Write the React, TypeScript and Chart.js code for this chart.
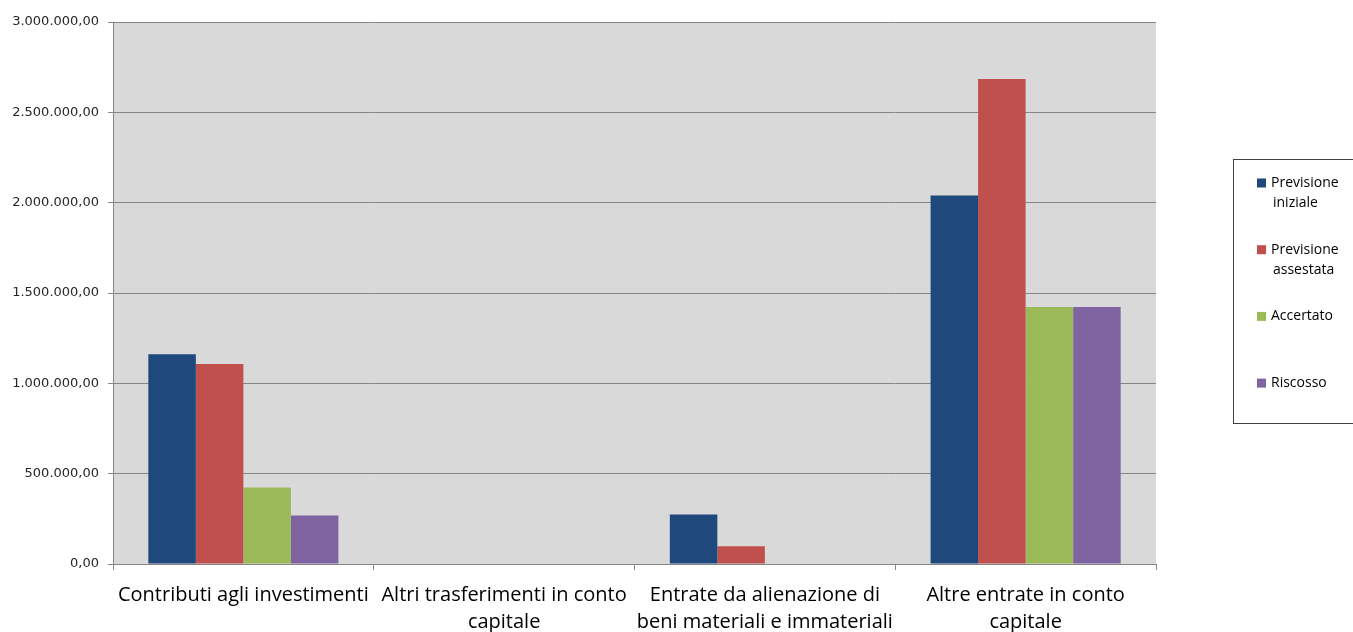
import React, { useEffect, useRef } from "react";
import { Chart, registerables } from "chart.js";

Chart.register(...registerables);

const categories: string[][] = [
  ["Contributi agli investimenti"],
  ["Altri trasferimenti in conto", "capitale"],
  ["Entrate da alienazione di", "beni materiali e immateriali"],
  ["Altre entrate in conto", "capitale"],
];

const seriesNames = ["Previsione\niniziale", "Previsione\nassestata", "Accertato", "Riscosso"];
const previsioneIniziale = [1161000, 0, 274000, 2040000];
const previsioneAssestata = [1107000, 0, 98000, 2685000];
const accertato = [424000, 0, 0, 1422000];
const riscosso = [268000, 0, 0, 1422000];
const seriesColors = ["#1F497D", "#C0504D", "#9BBB59", "#8064A2"];

const yMin = 0;
const yMax = 3000000;
const yStep = 500000;

function fmt(v: number): string {
  const [i, d] = Math.abs(v).toFixed(2).split(".");
  return (v < 0 ? "-" : "") + i.replace(/\B(?=(\d{3})+(?!\d))/g, ".") + "," + d;
}

const FONT = "'Open Sans', sans-serif";

const plotBg = {
  id: "plotBg",
  beforeDraw(chart: any) {
    const { ctx, chartArea } = chart;
    ctx.save();
    ctx.fillStyle = "#D9D9D9";
    ctx.fillRect(chartArea.left, chartArea.top, chartArea.right - chartArea.left, chartArea.bottom - chartArea.top);
    ctx.restore();
  },
};

const boxLegend = {
  id: "boxLegend",
  afterDraw(chart: any) {
    const { ctx } = chart;
    const left = 1233.5;
    const top = 159.5;
    const bottom = 423.5;
    const right = chart.width + 2;
    ctx.save();
    ctx.strokeStyle = "#404040";
    ctx.lineWidth = 1;
    ctx.strokeRect(left, top, right - left, bottom - top);
    const ds = chart.data.datasets;
    const n = ds.length;
    const first = 183;
    const spacing = 66.7;
    ctx.font = "14px " + FONT;
    ctx.textBaseline = "middle";
    ctx.textAlign = "left";
    for (let k = 0; k < n; k++) {
      const y = first + k * spacing;
      ctx.fillStyle = ds[k].backgroundColor;
      ctx.fillRect(1257, y - 4.5, 9, 9);
      ctx.fillStyle = "#000000";
      const lines = String(ds[k].label).split("\n");
      lines.forEach((ln: string, j: number) => {
        ctx.fillText(ln, j === 0 ? 1271 : 1273, y + j * 20);
      });
    }
    ctx.restore();
  },
};

export default function App() {
  const ref = useRef<HTMLCanvasElement>(null);
  useEffect(() => {
    if (!ref.current) return;
    const values = [previsioneIniziale, previsioneAssestata, accertato, riscosso];
    const chart = new Chart(ref.current, {
      type: "bar",
      data: {
        labels: categories as any,
        datasets: seriesNames.map((name, i) => ({
          label: name,
          data: values[i],
          backgroundColor: seriesColors[i],
          borderWidth: 0,
          barPercentage: 1,
          categoryPercentage: 0.729,
        })),
      },
      options: {
        animation: false,
        responsive: false,
        maintainAspectRatio: false,
        devicePixelRatio: 1,
        layout: { padding: { top: 22, right: 197, left: 0, bottom: 0 } },
        plugins: {
          legend: { display: false },
          tooltip: { enabled: false },
          title: { display: false },
        },
        scales: {
          x: {
            offset: true,
            grid: {
              offset: true,
              drawOnChartArea: false,
              drawTicks: true,
              tickLength: 6,
              color: "#868686",
            },
            border: { display: true, color: "#868686", width: 1 },
            ticks: {
              autoSkip: false,
              maxRotation: 0,
              minRotation: 0,
              padding: 12,
              color: "#000000",
              font: { family: FONT, size: 20, lineHeight: 1.35 },
            },
            afterFit(scale: any) {
              scale.height = 68;
            },
          },
          y: {
            min: yMin,
            max: yMax,
            ticks: {
              stepSize: yStep,
              padding: 9,
              color: "#262626",
              font: { family: "'DejaVu Sans', sans-serif", size: 13 },
              callback: (v: any) => fmt(Number(v)),
            },
            grid: {
              color: "#868686",
              tickLength: 5,
              drawTicks: true,
            },
            border: { display: true, color: "#868686", width: 1 },
            afterFit(scale: any) {
              scale.width = 113;
            },
          },
        },
      },
      plugins: [plotBg, boxLegend],
    });
    return () => chart.destroy();
  }, []);
  return (
    <div style={{ position: "absolute", left: 0, top: 0, width: 1353, height: 632, background: "#ffffff" }}>
      <canvas ref={ref} width={1353} height={632} style={{ display: "block" }} />
    </div>
  );
}
